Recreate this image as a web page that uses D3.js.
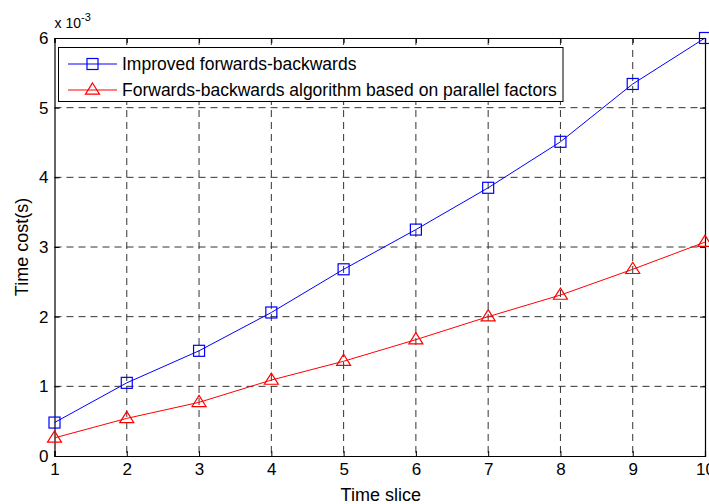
<!DOCTYPE html>
<html>
<head>
<meta charset="utf-8">
<script src="https://cdn.jsdelivr.net/npm/d3@7"></script>
<style>
  body { margin: 0; background: #fff; }
  text { font-family: "Liberation Sans", Arial, sans-serif; }
</style>
</head>
<body>
<div id="chart"></div>
<script>
// data (values in 1e-3 s)
const timeSlices = [1, 2, 3, 4, 5, 6, 7, 8, 9, 10];
const improved = [0.48, 1.05, 1.51, 2.06, 2.68, 3.25, 3.85, 4.51, 5.34, 6.0];
const parallel = [0.26, 0.54, 0.77, 1.09, 1.36, 1.67, 2.0, 2.31, 2.68, 3.07];
const yTicks = [0, 1, 2, 3, 4, 5, 6];
const seriesNames = ["Improved forwards-backwards", "Forwards-backwards algorithm based on parallel factors"];

const W = 709, H = 504;
const m = {top: 38, right: 4, bottom: 48, left: 54.5};
const w = W - m.left - m.right, h = H - m.top - m.bottom;

const svg = d3.select("#chart").append("svg")
    .attr("width", W).attr("height", H);
const g = svg.append("g").attr("transform", `translate(${m.left},${m.top})`);

const x = d3.scaleLinear().domain([1, 10]).range([0, w]);
const y = d3.scaleLinear().domain([0, 6]).range([h, 0]);

// grid
g.append("g").selectAll("line").data(timeSlices.slice(1, -1)).join("line")
    .attr("x1", d => x(d)).attr("x2", d => x(d)).attr("y1", 0).attr("y2", h)
    .attr("stroke", "#333").attr("stroke-dasharray", "7,5");
g.append("g").selectAll("line").data(yTicks.slice(1, -1)).join("line")
    .attr("y1", d => y(d)).attr("y2", d => y(d)).attr("x1", 0).attr("x2", w)
    .attr("stroke", "#333").attr("stroke-dasharray", "7,5");

// axes (matlab-style inward ticks)
const fs = "17px";
const xb = g.append("g").attr("transform", `translate(0,${h})`)
    .call(d3.axisBottom(x).tickValues(timeSlices).tickSize(-5).tickPadding(7).tickFormat(d3.format("d")));
const xt = g.append("g")
    .call(d3.axisTop(x).tickValues(timeSlices).tickSize(-5).tickFormat(""));
const yl = g.append("g")
    .call(d3.axisLeft(y).tickValues(yTicks).tickSize(-5).tickPadding(6).tickFormat(d3.format("d")));
const yr = g.append("g").attr("transform", `translate(${w},0)`)
    .call(d3.axisRight(y).tickValues(yTicks).tickSize(-5).tickFormat(""));
[xb, xt, yl, yr].forEach(a => {
  a.select(".domain").attr("stroke", "#000").attr("stroke-width", 1.2);
  a.selectAll(".tick line").attr("stroke", "#000");
  a.selectAll("text").style("font-size", fs).attr("fill", "#000");
});
xb.selectAll("text").attr("dy", "0.71em");

// axis titles
svg.append("text").attr("x", m.left + w / 2 + 1).attr("y", 501)
    .attr("text-anchor", "middle").style("font-size", "18px").text("Time slice");
svg.append("text").attr("transform", `translate(28,${m.top + h / 2}) rotate(-90)`)
    .attr("text-anchor", "middle").style("font-size", "18px").text("Time cost(s)");
const ex = svg.append("text").attr("x", 54.5).attr("y", 28).style("font-size", "14px");
ex.append("tspan").text("x 10");
ex.append("tspan").attr("dy", -7).style("font-size", "11px").text("-3");

// lines
const line = d3.line().x((d, i) => x(timeSlices[i])).y(d => y(d));
const series = [
  {name: seriesNames[0], values: improved, color: "#0000ff", marker: "square"},
  {name: seriesNames[1], values: parallel, color: "#ff0000", marker: "triangle"}
];

function drawMarker(sel, s, cx, cy) {
  if (s.marker === "square") {
    sel.append("rect").attr("x", cx - 5.5).attr("y", cy - 5.5)
      .attr("width", 11).attr("height", 11)
      .attr("fill", "none").attr("stroke", s.color).attr("stroke-width", 1.2);
  } else {
    const r = 7;
    sel.append("path")
      .attr("d", `M${cx},${cy - r} L${cx + r},${cy + r * 0.6} L${cx - r},${cy + r * 0.6} Z`)
      .attr("fill", "none").attr("stroke", s.color).attr("stroke-width", 1.2);
  }
}

series.forEach(s => {
  g.append("path").datum(s.values).attr("d", line)
    .attr("fill", "none").attr("stroke", s.color).attr("stroke-width", 1);
  const mg = g.append("g");
  s.values.forEach((v, i) => drawMarker(mg, s, x(timeSlices[i]), y(v)));
});

// legend
const lg = svg.append("g");
lg.append("rect").attr("x", 58.5).attr("y", 47.5).attr("width", 504.5).attr("height", 54)
  .attr("fill", "#fff").attr("stroke", "#000").attr("stroke-width", 1);
series.forEach((s, i) => {
  const ly = 64 + i * 26;
  lg.append("line").attr("x1", 68).attr("x2", 117).attr("y1", ly).attr("y2", ly)
    .attr("stroke", s.color).attr("stroke-width", 1);
  drawMarker(lg, s, 92.5, ly);
  lg.append("text").attr("x", 122).attr("y", ly).attr("dy", "0.35em")
    .style("font-size", "17.5px").text(s.name);
});
</script>
</body>
</html>
